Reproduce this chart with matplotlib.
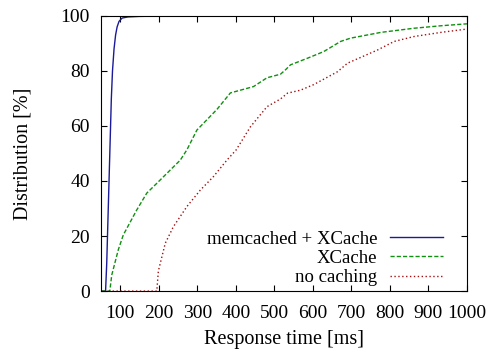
import numpy as np
import matplotlib
matplotlib.use("Agg")
import matplotlib.pyplot as plt

plt.rcParams['font.family'] = ['Liberation Serif', 'DejaVu Serif']
plt.rcParams['font.size'] = 14

# response time CDFs (ms, %)
memc_x = [50, 62, 65, 68, 71, 74, 77, 80, 84, 88, 92, 97, 105, 120, 150, 200, 275]
memc_y = [0, 0, 10, 25, 40, 55, 70, 80, 88, 93, 96, 98, 99.2, 99.6, 99.8, 99.9, 100]

xc_x = [50, 73, 78, 95, 108, 143, 169, 204, 256, 273, 299, 351, 386, 446, 481, 516,
        529, 542, 586, 628, 672, 698, 777, 863, 933, 1000]
xc_y = [0, 0, 5.8, 15, 20.4, 29.5, 35.6, 40.4, 47.6, 51.3, 58.5, 66, 72, 74.3, 77.5,
        78.8, 80.4, 82.2, 84.6, 87, 90.7, 91.9, 94, 95.5, 96.4, 97.1]

nc_x = [50, 195, 199, 217, 238, 273, 308, 342, 377, 401, 438, 481, 516, 534, 568,
        602, 664, 690, 768, 811, 863, 933, 1000]
nc_y = [0, 0, 7.3, 17.4, 23.4, 30.7, 36.7, 41.6, 47.6, 51.3, 59.7, 67, 69.8, 71.9, 73,
        75, 79.7, 82.8, 87.6, 90.7, 92.5, 94, 95.2]

fig = plt.figure(figsize=(4.9, 3.52), dpi=100)
ax = fig.add_axes([0.206, 0.173, 0.747, 0.782])

ax.plot(memc_x, memc_y, color='#1a1a9a', lw=1.0, label='memcached + XCache')
ax.plot(xc_x, xc_y, color='#109010', lw=1.0, dashes=(3, 1.5), label='XCache')
ax.plot(nc_x, nc_y, color='#a01010', lw=1.0, dashes=(1, 1.8), label='no caching')

ax.set_xlim(50, 1000)
ax.set_ylim(0, 100)
ax.set_xticks(np.arange(100, 1001, 100))
ax.set_yticks(np.arange(0, 101, 20))
ax.tick_params(direction='in', top=True, right=True, length=4, width=0.8)
ax.tick_params(axis='x', pad=10)
ax.tick_params(axis='y', pad=8)
ax.set_xlabel('Response time [ms]', fontsize=14.5, labelpad=6)
ax.set_ylabel('Distribution [%]', fontsize=14.5, labelpad=20)

ax.legend(loc='lower right', markerfirst=False, frameon=False, handlelength=2.8,
          labelspacing=0.12, handletextpad=0.7, borderaxespad=0.0,
          fontsize=13.5, bbox_to_anchor=(0.955, -0.01))

fig.savefig('out.png', dpi=100)
